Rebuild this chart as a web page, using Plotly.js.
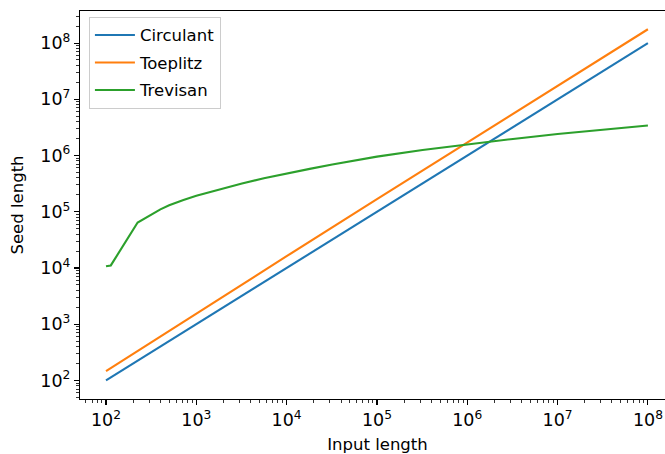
<!DOCTYPE html>
<html>
<head>
<meta charset="utf-8">
<script src="https://cdn.plot.ly/plotly-3.0.1.min.js"></script>
<style>html,body{margin:0;padding:0;overflow:hidden;background:#fff;}</style>
</head>
<body>
<div id="chart"></div>
<script>
const inputLength = [100, 1e3, 1e4, 1e5, 1e6, 1e7, 1e8];
const circulant = [100, 1e3, 1e4, 1e5, 1e6, 1e7, 1e8];
const toeplitz = [146, 1550, 16200, 167000, 1.70e6, 1.73e7, 1.76e8];

const trevisanInput = [100, 113, 224, 307, 347, 400, 500, 600, 720, 1000, 1700, 3200, 5600, 1e4, 18000, 32000, 1e5, 320000, 1e6, 3.2e6, 1e7, 3.2e7, 1e8];
const trevisan = [10700, 11100, 64300, 87100, 97700, 110000, 130000, 147000, 162000, 193000, 245000, 318000, 395000, 482000, 579000, 692000, 955000, 1.25e6, 1.585e6, 1.97e6, 2.42e6, 2.90e6, 3.42e6];

const tickVals = [1e2, 1e3, 1e4, 1e5, 1e6, 1e7, 1e8];
const tickText = ['10<sup>2</sup>', '10<sup>3</sup>', '10<sup>4</sup>', '10<sup>5</sup>', '10<sup>6</sup>', '10<sup>7</sup>', '10<sup>8</sup>'];

const font = {family: 'DejaVu Sans', size: 16.5, color: '#000'};
const tickFont = {family: 'DejaVu Sans', size: 17.5, color: '#000'};

const traces = [
  {x: inputLength, y: circulant, name: 'Circulant', mode: 'lines', legendgroup: 'a', line: {color: '#1f77b4', width: 2.1}},
  {x: inputLength, y: toeplitz, name: 'Toeplitz', mode: 'lines', legendgroup: 'b', line: {color: '#ff7f0e', width: 2.1}},
  {x: trevisanInput, y: trevisan, name: 'Trevisan', mode: 'lines', legendgroup: 'c', line: {color: '#2ca02c', width: 2.1}}
];

const axisCommon = {
  type: 'log',
  showgrid: false,
  zeroline: false,
  showline: true,
  linecolor: '#000',
  linewidth: 1.1,
  mirror: true,
  ticks: 'outside',
  ticklen: 5,
  tickwidth: 1.1,
  tickcolor: '#000',
  tickvals: tickVals,
  ticktext: tickText,
  tickfont: tickFont,
  minor: {ticks: 'outside', ticklen: 3, tickwidth: 0.8, tickcolor: '#000', dtick: 'D1', showgrid: false}
};

const layout = {
  width: 690,
  height: 454,
  margin: {l: 80, r: 15, t: 11, b: 55},
  paper_bgcolor: '#fff',
  plot_bgcolor: '#fff',
  font: font,
  showlegend: true,
  legend: {
    x: 0.015, y: 0.985, xanchor: 'left', yanchor: 'top',
    bgcolor: 'rgba(255,255,255,0.8)', bordercolor: '#cccccc', borderwidth: 1,
    font: font, tracegroupgap: 3, traceorder: 'grouped', itemwidth: 40
  },
  xaxis: Object.assign({}, axisCommon, {
    range: [1.712, 8.3],
    title: {text: 'Input length', font: font, standoff: 10}
  }),
  yaxis: Object.assign({}, axisCommon, {
    range: [1.67, 8.57],
    title: {text: 'Seed length', font: font, standoff: 12}
  })
};

Plotly.newPlot('chart', traces, layout, {displayModeBar: false, staticPlot: true});
</script>
</body>
</html>
